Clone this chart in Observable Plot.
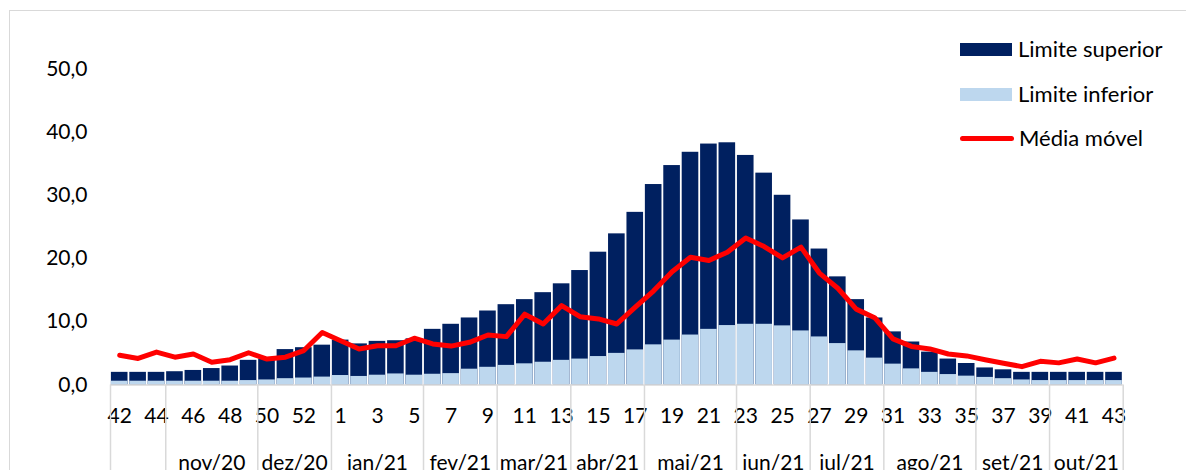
<!DOCTYPE html>
<html>
<head>
<meta charset="utf-8">
<script src="https://cdn.jsdelivr.net/npm/d3@7"></script>
<script src="https://cdn.jsdelivr.net/npm/@observablehq/plot@0.6"></script>
<style>
  html, body { margin: 0; padding: 0; background: #fff; }
  #wrap { position: relative; width: 1186px; height: 470px; overflow: hidden; font-family: Lato, "Open Sans", sans-serif; color: #000; }
  #border { position: absolute; left: 9px; top: 10px; width: 1400px; height: 700px; border: 1.5px solid #d9d9d9; box-sizing: border-box; pointer-events: none; }
  #chart { position: absolute; left: 0; top: 0; }
  .leg { position: absolute; left: 960px; font-size: 22px; line-height: 22px; display: flex; align-items: center; }
  .sw { width: 52px; height: 13px; margin-right: 6px; }
  .ln { width: 54px; height: 5px; border-radius: 3px; background: #ff0000; margin-right: 5px; }
</style>
</head>
<body>
<div id="wrap">
  <div id="border"></div>
  <div id="chart"></div>
  <div class="leg" style="top:38px"><div class="sw" style="background:#002060"></div>Limite superior</div>
  <div class="leg" style="top:83px"><div class="sw" style="background:#bdd7ee"></div>Limite inferior</div>
  <div class="leg" style="top:127px"><div class="ln"></div>Média móvel</div>
</div>
<script>
const weeks = [42,43,44,45,46,47,48,49,50,51,52,53,
  1,2,3,4,5,6,7,8,9,10,11,12,13,14,15,16,17,18,19,20,21,22,23,24,25,26,27,28,29,30,31,32,33,34,35,36,37,38,39,40,41,42,43];
const upper = [2.0,2.0,2.0,2.1,2.3,2.6,3.0,3.9,4.1,5.6,5.9,6.3,
  7.1,6.5,6.9,7.0,7.3,8.8,9.6,10.6,11.7,12.7,13.5,14.6,16.0,18.1,21.0,23.9,27.3,31.7,34.7,36.8,38.1,38.3,36.3,33.5,30.0,26.1,21.5,17.1,13.5,10.6,8.4,6.8,5.2,4.1,3.4,2.7,2.4,2.0,2.0,2.0,2.0,2.0,2.0];
const lower = [0.6,0.6,0.6,0.6,0.6,0.6,0.6,0.7,0.8,1.0,1.1,1.25,
  1.5,1.35,1.55,1.75,1.55,1.7,1.8,2.5,2.8,3.1,3.35,3.6,3.9,4.1,4.5,5.0,5.55,6.35,7.1,7.9,8.8,9.4,9.6,9.6,9.35,8.55,7.6,6.55,5.4,4.25,3.3,2.55,2.0,1.65,1.4,1.2,1.0,0.8,0.7,0.7,0.7,0.7,0.7];
const movingAvg = [4.7,4.2,5.2,4.4,4.9,3.6,4.0,5.1,4.1,4.4,5.45,8.3,
  7.0,5.7,6.2,6.2,7.4,6.5,6.15,6.75,7.9,7.65,11.2,9.65,12.55,10.8,10.45,9.65,12.3,14.9,17.9,20.2,19.7,21.0,23.25,21.9,20.1,21.8,17.7,15.3,12.0,10.65,7.3,6.1,5.7,4.9,4.6,4.0,3.45,2.9,3.75,3.5,4.1,3.5,4.25];
const months = ["", "nov/20","dez/20","jan/21","fev/21","mar/21","abr/21","mai/21","jun/21","jul/21","ago/21","set/21","out/21"];
const monthWeekCounts = [3,5,4,5,4,4,4,5,4,4,5,4,4];
const yTicks = [0,10,20,30,40,50];

const data = weeks.map((w, i) => ({i, week: w, upper: upper[i], lower: lower[i], mm: movingAvg[i]}));

// month group boundaries and centres (in week index units)
const starts = [0];
monthWeekCounts.forEach(c => starts.push(starts[starts.length - 1] + c));
const boundaries = starts.map(s => s - 0.5);
const centres = monthWeekCounts.map((c, k) => starts[k] + c / 2 - 0.5);
const evenIdx = data.filter(d => d.i % 2 === 0).map(d => d.i);

const plot = Plot.plot({
  width: 1186,
  height: 470,
  marginLeft: 110,
  marginRight: 63.3,
  marginTop: 68.3,
  marginBottom: 85.5,
  style: {fontFamily: "Lato, 'Open Sans', sans-serif", fontSize: "21px", color: "#000", background: "transparent", overflow: "visible"},
  x: {domain: [-0.5, weeks.length - 0.5]},
  y: {domain: [0, 50]},
  marks: [
    Plot.rectY(data, {x1: d => d.i - 0.5, x2: d => d.i + 0.5, y: "upper", fill: "#002060", insetLeft: 0.9, insetRight: 0.9}),
    Plot.rectY(data, {x1: d => d.i - 0.5, x2: d => d.i + 0.5, y: "lower", fill: "#bdd7ee", insetLeft: 0.9, insetRight: 0.9}),
    Plot.ruleY([0], {stroke: "#d9d9d9", strokeWidth: 1.5}),
    Plot.line(data, {x: "i", y: "mm", stroke: "#ff0000", strokeWidth: 5, strokeLinejoin: "round", strokeLinecap: "round"}),
    Plot.axisY(yTicks, {tickSize: 0, tickPadding: 23, fontSize: 21, tickFormat: d => d.toFixed(1).replace(".", ","), label: null, fill: "#000"}),
    Plot.axisX(evenIdx, {tickSize: 0, tickPadding: 23.5, fontSize: 21, tickFormat: i => String(weeks[i]), label: null, fill: "#000"}),
    Plot.axisX(boundaries, {tickSize: 90, tickFormat: () => "", stroke: "#d9d9d9", strokeWidth: 1.5, strokeOpacity: 1, label: null}),
    Plot.axisX(centres, {tickSize: 0, tickPadding: 70.5, fontSize: 21, tickFormat: d => months[centres.indexOf(d)], label: null, fill: "#000"})
  ]
});
document.getElementById("chart").appendChild(plot);
</script>
</body>
</html>
